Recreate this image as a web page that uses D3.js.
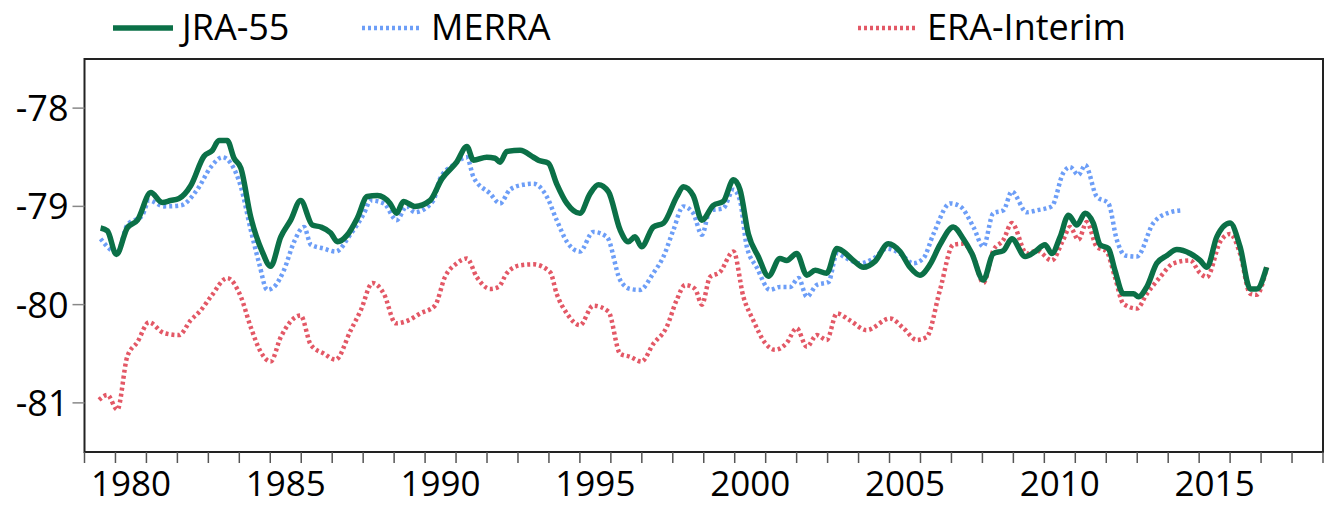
<!DOCTYPE html>
<html><head><meta charset="utf-8">
<script src="https://cdn.jsdelivr.net/npm/d3@7"></script>
<style>body{margin:0;background:#fff;overflow:hidden}text{font-family:"Open Sans",sans-serif}</style>
</head><body><svg id="c" width="1326" height="510"></svg>
<script>
// series as [year, value] pairs
var jra55 = [[1979.52,-79.22],[1979.74,-79.25],[1980.03,-79.49],[1980.38,-79.22],[1980.71,-79.14],[1981.14,-78.86],[1981.51,-78.96],[1981.78,-78.94],[1982.05,-78.92],[1982.43,-78.79],[1982.86,-78.49],[1983.13,-78.43],[1983.34,-78.33],[1983.61,-78.33],[1983.83,-78.51],[1984.05,-78.61],[1984.37,-79.11],[1984.74,-79.46],[1985.01,-79.61],[1985.34,-79.31],[1985.66,-79.14],[1985.98,-78.94],[1986.36,-79.19],[1986.63,-79.21],[1986.95,-79.27],[1987.17,-79.36],[1987.49,-79.29],[1987.81,-79.12],[1988.13,-78.90],[1988.46,-78.89],[1988.87,-78.97],[1989.08,-79.07],[1989.30,-78.95],[1989.67,-79.00],[1990.16,-78.94],[1990.54,-78.72],[1991.02,-78.55],[1991.35,-78.39],[1991.56,-78.53],[1991.99,-78.50],[1992.26,-78.51],[1992.42,-78.55],[1992.64,-78.44],[1993.07,-78.43],[1993.50,-78.50],[1993.66,-78.53],[1993.98,-78.56],[1994.25,-78.77],[1994.58,-78.97],[1995.00,-79.07],[1995.33,-78.87],[1995.60,-78.78],[1995.92,-78.85],[1996.30,-79.24],[1996.56,-79.36],[1996.78,-79.31],[1996.99,-79.41],[1997.37,-79.21],[1997.70,-79.17],[1998.13,-78.90],[1998.34,-78.80],[1998.66,-78.89],[1998.94,-79.14],[1999.31,-78.99],[1999.63,-78.95],[1999.96,-78.73],[2000.17,-78.83],[2000.44,-79.28],[2000.76,-79.51],[2001.09,-79.71],[2001.46,-79.53],[2001.68,-79.55],[2002.00,-79.48],[2002.33,-79.70],[2002.60,-79.65],[2002.97,-79.68],[2003.30,-79.43],[2003.51,-79.46],[2003.83,-79.55],[2004.16,-79.62],[2004.53,-79.56],[2004.96,-79.38],[2005.34,-79.46],[2005.66,-79.62],[2005.98,-79.70],[2006.31,-79.59],[2006.63,-79.39],[2007.06,-79.21],[2007.38,-79.33],[2007.66,-79.48],[2008.03,-79.75],[2008.35,-79.48],[2008.68,-79.45],[2008.95,-79.33],[2009.38,-79.51],[2009.70,-79.46],[2010.02,-79.39],[2010.24,-79.48],[2010.51,-79.31],[2010.78,-79.09],[2011.05,-79.19],[2011.32,-79.07],[2011.58,-79.17],[2011.80,-79.39],[2012.07,-79.43],[2012.28,-79.65],[2012.55,-79.89],[2012.88,-79.89],[2013.04,-79.92],[2013.31,-79.82],[2013.63,-79.58],[2013.96,-79.50],[2014.28,-79.44],[2014.71,-79.48],[2015.03,-79.55],[2015.25,-79.62],[2015.57,-79.31],[2016.00,-79.17],[2016.32,-79.41],[2016.65,-79.84],[2016.86,-79.84],[2017.18,-79.62]];
var merra = [[1979.52,-79.33],[1980.06,-79.47],[1980.38,-79.19],[1980.87,-79.09],[1981.08,-78.94],[1981.57,-79.00],[1982.11,-78.99],[1982.64,-78.83],[1983.08,-78.60],[1983.45,-78.50],[1983.72,-78.56],[1984.05,-78.80],[1984.37,-79.24],[1984.64,-79.58],[1984.90,-79.85],[1985.12,-79.82],[1985.44,-79.65],[1985.77,-79.36],[1986.09,-79.21],[1986.31,-79.39],[1986.74,-79.43],[1987.11,-79.46],[1987.60,-79.28],[1988.03,-79.07],[1988.24,-78.94],[1988.67,-78.97],[1989.08,-79.14],[1989.41,-79.00],[1989.67,-79.06],[1990.27,-78.94],[1990.48,-78.72],[1990.91,-78.58],[1991.35,-78.50],[1991.56,-78.70],[1992.10,-78.87],[1992.42,-78.97],[1992.74,-78.83],[1993.17,-78.78],[1993.50,-78.77],[1993.93,-78.90],[1994.25,-79.14],[1994.58,-79.36],[1995.00,-79.46],[1995.43,-79.26],[1995.87,-79.31],[1996.30,-79.75],[1996.62,-79.84],[1996.94,-79.85],[1997.37,-79.68],[1997.70,-79.51],[1998.02,-79.24],[1998.34,-79.00],[1998.66,-79.07],[1998.94,-79.29],[1999.20,-79.04],[1999.63,-79.02],[1999.96,-78.83],[2000.17,-78.94],[2000.39,-79.41],[2000.71,-79.62],[2001.14,-79.85],[2001.46,-79.82],[2001.79,-79.82],[2002.06,-79.73],[2002.33,-79.92],[2002.65,-79.80],[2003.03,-79.77],[2003.30,-79.48],[2003.62,-79.53],[2004.05,-79.58],[2004.48,-79.53],[2004.91,-79.43],[2005.34,-79.48],[2005.77,-79.58],[2006.09,-79.53],[2006.42,-79.28],[2006.96,-78.97],[2007.28,-79.00],[2007.71,-79.21],[2008.03,-79.41],[2008.35,-79.07],[2008.68,-79.04],[2008.95,-78.85],[2009.43,-79.06],[2009.76,-79.04],[2010.24,-79.00],[2010.61,-78.66],[2010.83,-78.60],[2011.10,-78.68],[2011.32,-78.58],[2011.69,-78.90],[2012.07,-78.97],[2012.34,-79.34],[2012.61,-79.50],[2012.99,-79.51],[2013.52,-79.17],[2014.06,-79.06],[2014.44,-79.04]];
var eraInterim = [[1979.47,-80.97],[1979.74,-80.92],[1980.06,-81.07],[1980.38,-80.53],[1980.71,-80.38],[1981.08,-80.18],[1981.57,-80.29],[1982.05,-80.31],[1982.43,-80.16],[1982.75,-80.06],[1983.08,-79.92],[1983.61,-79.73],[1984.05,-79.92],[1984.37,-80.23],[1984.69,-80.48],[1985.01,-80.58],[1985.34,-80.33],[1985.98,-80.11],[1986.31,-80.41],[1986.74,-80.50],[1987.11,-80.56],[1987.60,-80.26],[1987.92,-80.06],[1988.30,-79.78],[1988.67,-79.89],[1989.05,-80.19],[1989.46,-80.16],[1989.84,-80.09],[1990.32,-80.01],[1990.64,-79.72],[1991.02,-79.58],[1991.35,-79.53],[1991.67,-79.72],[1992.10,-79.84],[1992.37,-79.82],[1992.64,-79.68],[1993.07,-79.60],[1993.50,-79.59],[1994.04,-79.67],[1994.25,-79.89],[1994.58,-80.09],[1995.00,-80.21],[1995.43,-80.01],[1995.92,-80.07],[1996.30,-80.50],[1996.62,-80.53],[1996.99,-80.58],[1997.37,-80.40],[1997.80,-80.23],[1998.13,-79.95],[1998.40,-79.80],[1998.72,-79.84],[1998.94,-80.00],[1999.20,-79.72],[1999.52,-79.67],[1999.96,-79.46],[2000.28,-79.92],[2000.60,-80.16],[2000.98,-80.39],[2001.30,-80.46],[2001.68,-80.39],[2002.00,-80.24],[2002.33,-80.43],[2002.65,-80.31],[2002.97,-80.36],[2003.30,-80.09],[2003.72,-80.16],[2004.26,-80.26],[2005.02,-80.14],[2005.45,-80.24],[2005.88,-80.36],[2006.20,-80.33],[2006.63,-79.85],[2007.06,-79.39],[2007.38,-79.38],[2007.71,-79.51],[2008.03,-79.78],[2008.35,-79.45],[2008.68,-79.34],[2008.95,-79.17],[2009.43,-79.48],[2009.76,-79.45],[2010.24,-79.55],[2010.61,-79.34],[2010.83,-79.21],[2011.10,-79.34],[2011.37,-79.16],[2011.69,-79.41],[2012.01,-79.46],[2012.28,-79.72],[2012.55,-79.99],[2012.99,-80.04],[2013.31,-79.89],[2013.74,-79.72],[2014.17,-79.58],[2014.71,-79.55],[2015.03,-79.68],[2015.25,-79.72],[2015.68,-79.36],[2016.00,-79.28],[2016.32,-79.48],[2016.65,-79.89],[2016.86,-79.90],[2017.18,-79.62]];
var yTicks = [-78, -79, -80, -81];
var xLabels = [1980, 1985, 1990, 1995, 2000, 2005, 2010, 2015];

var svg = d3.select("#c");
var L = 84.5, R = 1323, T = 59, B = 452;
var x = d3.scaleLinear().domain([1979, 2019]).range([L, R]);
var y = d3.scaleLinear().domain([-81.5, -77.5]).range([B, T]);

svg.append("rect").attr("x", L).attr("y", T).attr("width", R - L).attr("height", B - T)
  .attr("fill", "none").attr("stroke", "#222").attr("stroke-width", 2);

// x ticks every year, labels centred in the year
svg.append("g").selectAll("line").data(d3.range(1979, 2020)).join("line")
  .attr("x1", d => x(d)).attr("x2", d => x(d)).attr("y1", B).attr("y2", B + 11)
  .attr("stroke", "#555").attr("stroke-width", 1.5);
svg.append("g").selectAll("text").data(xLabels).join("text")
  .attr("x", d => x(d + 0.5)).attr("y", 496).attr("text-anchor", "middle")
  .attr("font-size", 35).text(d => d);

svg.append("g").selectAll("line").data(yTicks).join("line")
  .attr("x1", L - 12).attr("x2", L).attr("y1", d => y(d)).attr("y2", d => y(d))
  .attr("stroke", "#888").attr("stroke-width", 1.5);
svg.append("g").selectAll("text").data(yTicks).join("text")
  .attr("x", L - 16).attr("y", d => y(d) + 13).attr("text-anchor", "end")
  .attr("font-size", 36).text(d => "-" + Math.abs(d));

var line = d3.line().x(d => x(d[0])).y(d => y(d[1])).curve(d3.curveMonotoneX);
var series = [
  {name: "JRA-55", data: jra55, color: "#0b7047", w: 5.5, dash: null, lx: 113},
  {name: "MERRA", data: merra, color: "#6d9ef7", w: 4.5, dash: "3,3", lx: 362},
  {name: "ERA-Interim", data: eraInterim, color: "#e35866", w: 4.5, dash: "3,3", lx: 858}
];
// draw back to front: ERA, MERRA, JRA
series.slice().reverse().forEach(function(s) {
  svg.append("path").datum(s.data).attr("d", line).attr("fill", "none")
    .attr("stroke", s.color).attr("stroke-width", s.w)
    .attr("stroke-dasharray", s.dash).attr("stroke-linejoin", "round");
});
series.forEach(function(s) {
  svg.append("line").attr("x1", s.lx).attr("x2", s.lx + 60).attr("y1", 28).attr("y2", 28)
    .attr("stroke", s.color).attr("stroke-width", s.w).attr("stroke-dasharray", s.dash);
  svg.append("text").attr("x", s.lx + 69).attr("y", 40).attr("font-size", 36).text(s.name);
});
</script></body></html>
